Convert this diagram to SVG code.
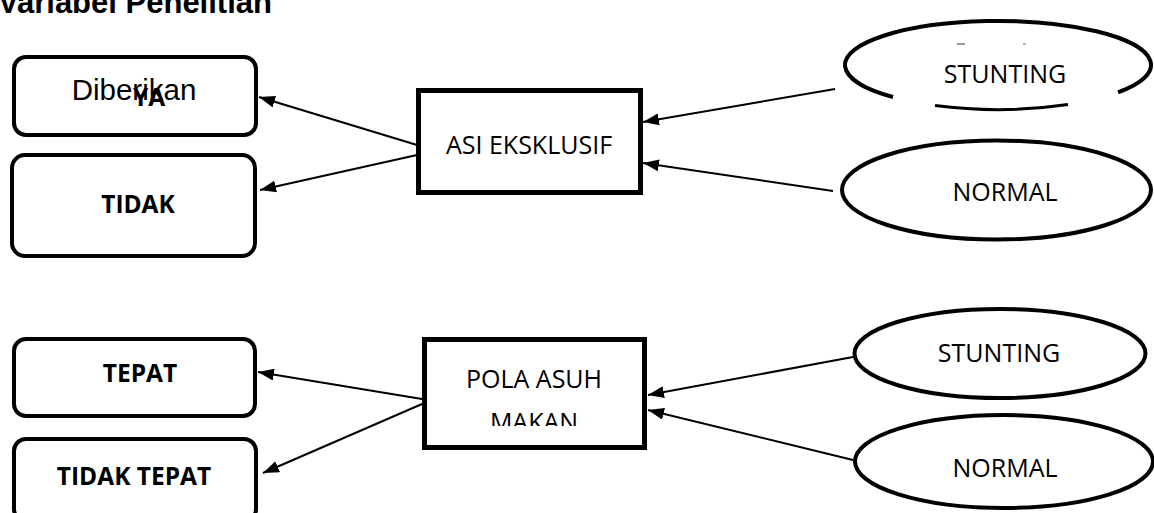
<svg xmlns="http://www.w3.org/2000/svg" width="1154" height="513" viewBox="0 0 1154 513">
<style>
.box{fill:#fff;stroke:#000;stroke-width:4}
.rect{fill:#fff;stroke:#000;stroke-width:5}
.ell{fill:#fff;stroke:#000;stroke-width:4}
.lbl{font-family:"Open Sans",sans-serif;font-size:25px;fill:#000;text-anchor:middle}
.bold{font-family:"Open Sans",sans-serif;font-size:24.5px;font-weight:bold;fill:#000;text-anchor:middle}
.con{stroke:#000;stroke-width:2;fill:none;marker-end:url(#ah)}
</style>
<defs>
<marker id="ah" viewBox="0 0 16 12" refX="16" refY="6" markerWidth="16" markerHeight="12" markerUnits="userSpaceOnUse" orient="auto">
<path d="M0,0 L16,6 L0,12 Z" fill="#000"/>
</marker>
<clipPath id="polaClip"><rect x="427" y="342" width="215" height="84"/></clipPath>
</defs>
<rect width="1154" height="513" fill="#fff"/>
<text x="-2" y="13" font-family="Liberation Sans, Arial, sans-serif" font-size="31" font-weight="bold" fill="#000">Variabel Penelitian</text>

<g id="connectors">
<line class="con" x1="417" y1="145" x2="259" y2="97"/>
<line class="con" x1="417" y1="155" x2="260" y2="190"/>
<line class="con" x1="835" y1="89" x2="643" y2="122"/>
<line class="con" x1="833" y1="191" x2="643" y2="163"/>
<line class="con" x1="422" y1="399" x2="258" y2="372"/>
<line class="con" x1="422" y1="404" x2="263" y2="473"/>
<line class="con" x1="853" y1="357" x2="648" y2="395"/>
<line class="con" x1="853" y1="460" x2="648" y2="410"/>
</g>

<g id="ya">
<rect class="box" x="14" y="57" width="242" height="78" rx="12"/>
<text x="134" y="100" font-family="Liberation Sans, Arial, sans-serif" font-size="29.5" text-anchor="middle" fill="#000">Diberikan</text>
<text class="bold" x="149" y="106">YA</text>
</g>

<g id="tidak">
<rect class="box" x="12" y="155" width="243" height="101" rx="13"/>
<text class="bold" x="138" y="213">TIDAK</text>
</g>

<g id="asi">
<rect class="rect" x="418.5" y="90.5" width="222" height="102"/>
<text class="lbl" x="529" y="154">ASI EKSKLUSIF</text>
</g>

<g id="stunting1">
<path fill="#fff" stroke="none" d="M845,65 A153,44 0 1 1 1151,65 A153,44 0 1 1 845,65 Z"/>
<path fill="none" stroke="#000" stroke-width="4" d="M893,97 A153,44 0 1 1 1118,92.3"/>
<path fill="none" stroke="#000" stroke-width="3" d="M935,105.5 A153,44 0 0 0 1068,104.5"/>
<line x1="957" y1="44" x2="965" y2="44" stroke="#777" stroke-width="1.5"/>
<line x1="1023" y1="44" x2="1026" y2="44" stroke="#999" stroke-width="1.5"/>
<text class="lbl" x="1005" y="83">STUNTING</text>
</g>

<g id="normal1">
<ellipse class="ell" cx="996.5" cy="190" rx="154.5" ry="49.5"/>
<text class="lbl" x="1005" y="201">NORMAL</text>
</g>

<g id="tepat">
<rect class="box" x="14" y="339" width="241" height="77" rx="12"/>
<text class="bold" x="140" y="382">TEPAT</text>
</g>

<g id="tidaktepat">
<rect class="box" x="14" y="439" width="242" height="82" rx="12"/>
<text class="bold" x="134" y="485">TIDAK TEPAT</text>
</g>

<g id="pola">
<rect class="rect" x="424.5" y="339.5" width="220" height="108"/>
<g clip-path="url(#polaClip)">
<text class="lbl" x="534" y="388">POLA ASUH</text>
<text class="lbl" x="534" y="431">MAKAN</text>
</g>
</g>

<g id="stunting2">
<ellipse class="ell" cx="1000" cy="353.5" rx="145.5" ry="44.5"/>
<text class="lbl" x="999" y="362">STUNTING</text>
</g>

<g id="normal2">
<ellipse class="ell" cx="1004" cy="461.5" rx="149" ry="46.5"/>
<text class="lbl" x="1005" y="477">NORMAL</text>
</g>
</svg>
